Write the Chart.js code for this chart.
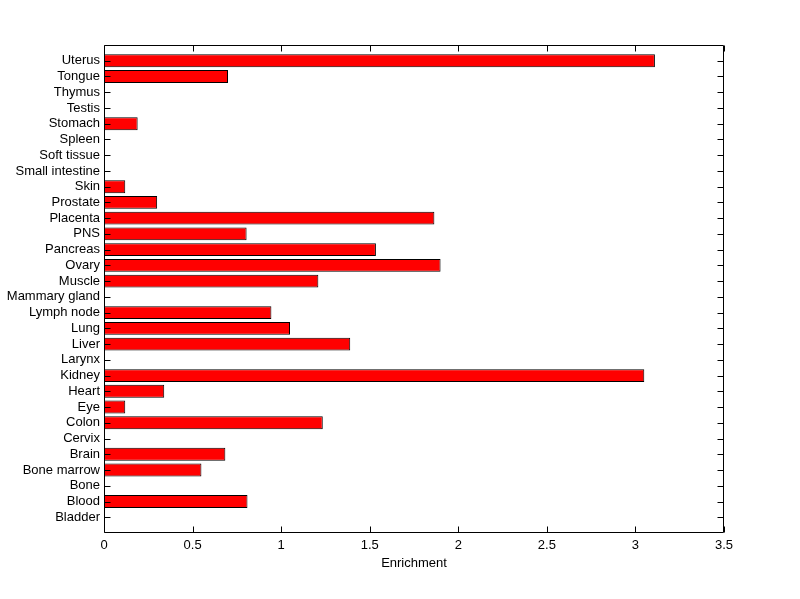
<!DOCTYPE html>
<html>
<head>
<meta charset="utf-8">
<script src="https://cdn.jsdelivr.net/npm/chart.js@4/dist/chart.umd.min.js"></script>
<style>
html,body{margin:0;padding:0;background:#fff;}
canvas{display:block;}
</style>
</head>
<body>
<canvas id="c" width="800" height="599"></canvas>
<script>
const categories = ['Uterus','Tongue','Thymus','Testis','Stomach','Spleen','Soft tissue','Small intestine','Skin','Prostate','Placenta','PNS','Pancreas','Ovary','Muscle','Mammary gland','Lymph node','Lung','Liver','Larynx','Kidney','Heart','Eye','Colon','Cervix','Brain','Bone marrow','Bone','Blood','Bladder'];
const enrichment = [3.11,0.70,0,0,0.19,0,0,0,0.12,0.30,1.865,0.805,1.535,1.90,1.21,0,0.945,1.05,1.39,0,3.05,0.34,0.12,1.235,0,0.685,0.55,0,0.81,0];
const xMin = 0, xMax = 3.5, xStep = 0.5;
const xTitle = 'Enrichment';

const labels = [''].concat(categories, ['']);
const values = [null].concat(enrichment, [null]);

const FONT = {family: '"Liberation Sans", Arial, sans-serif', size: 13};

const boxTicks = {
  id: 'boxTicks',
  afterDatasetsDraw(chart) {
    const {ctx, chartArea: a, scales: {x, y}} = chart;
    ctx.save();
    ctx.strokeStyle = '#000';
    ctx.lineWidth = 1;
    const L = Math.round(a.left) + 0.5, R = Math.round(a.right) - 0.5;
    const T = Math.round(a.top) + 0.5, B = Math.round(a.bottom) - 0.5;
    ctx.beginPath();
    ctx.rect(L, T, R - L, B - T);
    x.ticks.forEach((t, i) => {
      const px = Math.round(x.getPixelForTick(i)) + 0.5;
      ctx.moveTo(px, B); ctx.lineTo(px, B - 6);
      ctx.moveTo(px, T); ctx.lineTo(px, T + 6);
    });
    for (let i = 1; i <= categories.length; i++) {
      const py = Math.round(y.getPixelForValue(i)) + 0.5;
      ctx.moveTo(L, py); ctx.lineTo(L + 6, py);
      ctx.moveTo(R, py); ctx.lineTo(R - 6, py);
    }
    ctx.stroke();
    ctx.restore();
  }
};

new Chart(document.getElementById('c'), {
  type: 'bar',
  data: {
    labels: labels,
    datasets: [{
      data: values,
      backgroundColor: '#ff0000',
      borderColor: '#000000',
      borderWidth: 1,
      borderSkipped: false,
      categoryPercentage: 0.82,
      barPercentage: 1.0
    }]
  },
  options: {
    indexAxis: 'y',
    responsive: false,
    animation: false,
    devicePixelRatio: 1,
    layout: {padding: {left: 0, right: 76, top: 45, bottom: 0}},
    plugins: {legend: {display: false}, tooltip: {enabled: false}},
    scales: {
      x: {
        type: 'linear',
        position: 'bottom',
        min: xMin, max: xMax,
        ticks: {stepSize: xStep, color: '#000', font: FONT, padding: 5, maxRotation: 0,
                callback: (v) => String(Number(v.toFixed(2)))},
        grid: {display: false, drawTicks: false},
        border: {display: false},
        title: {display: true, text: xTitle, color: '#000', font: FONT, padding: {top: 0, bottom: 28}},
        afterFit(s) { s.height = 66; }
      },
      y: {
        type: 'category',
        offset: false,
        ticks: {color: '#000', font: FONT, padding: 4, autoSkip: false},
        grid: {display: false, drawTicks: false},
        border: {display: false},
        afterFit(s) { s.width = 104; }
      }
    }
  },
  plugins: [boxTicks]
});
</script>
</body>
</html>
